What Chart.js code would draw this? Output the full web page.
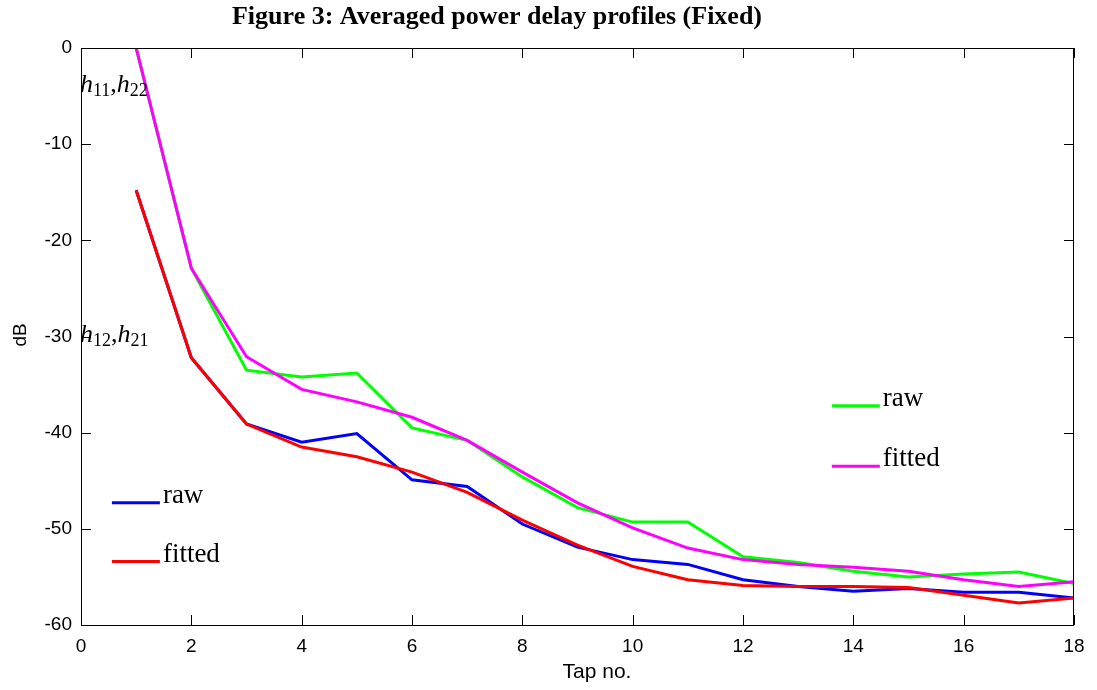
<!DOCTYPE html>
<html>
<head>
<meta charset="utf-8">
<script src="https://cdn.jsdelivr.net/npm/chart.js@4.4.0/dist/chart.umd.min.js"></script>
<style>
  html, body { margin: 0; padding: 0; background: #fff; }
  #wrap { width: 1097px; height: 690px; position: relative; }
</style>
</head>
<body>
<div id="wrap"><canvas id="pdp"></canvas></div>
<script>
// tap index and averaged power (dB)
const taps = [1, 2, 3, 4, 5, 6, 7, 8, 9, 10, 11, 12, 13, 14, 15, 16, 17, 18];
const h11Raw    = [0, -22.9, -33.5, -34.2, -33.8, -39.5, -40.8, -44.6, -47.8, -49.3, -49.3, -52.9, -53.5, -54.4, -55.0, -54.7, -54.5, -55.7];
const h11Fitted = [0, -22.9, -32.1, -35.5, -36.8, -38.4, -40.8, -44.1, -47.3, -49.9, -52.0, -53.2, -53.7, -54.0, -54.4, -55.3, -56.0, -55.5];
const h12Raw    = [-14.8, -32.2, -39.1, -41.0, -40.1, -44.9, -45.6, -49.5, -51.9, -53.2, -53.7, -55.3, -56.0, -56.5, -56.2, -56.6, -56.6, -57.2];
const h12Fitted = [-14.8, -32.2, -39.1, -41.5, -42.5, -44.1, -46.2, -49.1, -51.7, -53.9, -55.3, -55.9, -56.0, -56.0, -56.1, -56.9, -57.7, -57.2];

const xTicks = [0, 2, 4, 6, 8, 10, 12, 14, 16, 18];
const yTicks = [0, -10, -20, -30, -40, -50, -60];

const pts = arr => arr.map((v, i) => ({ x: taps[i], y: v }));

// in-plot legends: [color, label, x0, x1, y] in data units
const legendItems = [
  ['#00ff00', 'raw', 13.61, 14.48, -37.2],
  ['#ff00ff', 'fitted', 13.61, 14.48, -43.5],
  ['#0000ff', 'raw', 0.56, 1.43, -47.3],
  ['#ff0000', 'fitted', 0.56, 1.43, -53.4]
];
// channel labels: [main, sub1, sub2, x, y] in data units
const chanLabels = [
  ['h', '11', '22', 0, -4.6],
  ['h', '12', '21', 0, -30.6]
];

const serif = '"Liberation Serif", "Times New Roman", serif';
const sans = '"Liberation Sans", Arial, sans-serif';

const decor = {
  id: 'decor',
  afterDraw(chart) {
    const { ctx, chartArea: a, scales: { x, y } } = chart;
    ctx.save();
    // box
    ctx.strokeStyle = '#000';
    ctx.lineWidth = 1;
    ctx.strokeRect(a.left + 0.5, a.top + 0.5, a.right - a.left - 1, a.bottom - a.top);
    // inward ticks, mirrored on top and right
    ctx.beginPath();
    xTicks.forEach(t => {
      const px = Math.round(x.getPixelForValue(t)) + 0.5;
      ctx.moveTo(px, a.bottom); ctx.lineTo(px, a.bottom - 10);
      ctx.moveTo(px, a.top); ctx.lineTo(px, a.top + 10);
    });
    yTicks.forEach(t => {
      const py = Math.round(y.getPixelForValue(t)) + 0.5;
      ctx.moveTo(a.left, py); ctx.lineTo(a.left + 10, py);
      ctx.moveTo(a.right, py); ctx.lineTo(a.right - 10, py);
    });
    ctx.stroke();

    // title
    ctx.fillStyle = '#000';
    ctx.textAlign = 'center';
    ctx.textBaseline = 'alphabetic';
    ctx.font = 'bold 26px ' + serif;
    ctx.fillText('Figure 3: Averaged power delay profiles (Fixed)', 497, 24);

    // axis titles
    ctx.font = '21px ' + sans;
    ctx.textBaseline = 'middle';
    ctx.fillText('Tap no.', 597, 672);
    ctx.save();
    ctx.translate(21, 335);
    ctx.rotate(-Math.PI / 2);
    ctx.font = '19px ' + sans;
    ctx.fillText('dB', 0, 0);
    ctx.restore();

    // legend lines and labels
    ctx.textAlign = 'left';
    ctx.textBaseline = 'alphabetic';
    ctx.font = '27px ' + serif;
    legendItems.forEach(([c, label, x0, x1, yv]) => {
      const py = y.getPixelForValue(yv);
      ctx.strokeStyle = c;
      ctx.lineWidth = 3;
      ctx.beginPath();
      ctx.moveTo(x.getPixelForValue(x0), py);
      ctx.lineTo(x.getPixelForValue(x1), py);
      ctx.stroke();
      ctx.fillStyle = '#000';
      ctx.fillText(label, x.getPixelForValue(x1) + 3, py);
    });

    // h labels with subscripts
    chanLabels.forEach(([m, s1, s2, xv, yv]) => {
      let px = x.getPixelForValue(xv) - 1;
      const py = y.getPixelForValue(yv);
      const big = 'italic 26px ' + serif;
      const small = '18px ' + serif;
      const parts = [[m, big, 0], [s1, small, 4], [',', '26px ' + serif, 0], [m, big, 0], [s2, small, 4]];
      parts.forEach(([t, f, dy]) => {
        ctx.font = f;
        ctx.fillText(t, px, py + dy);
        px += ctx.measureText(t).width;
      });
    });
    ctx.restore();
  }
};

const axisFont = { family: sans, size: 19 };

new Chart(document.getElementById('pdp'), {
  type: 'line',
  data: {
    datasets: [
      { label: 'h12 fitted', data: pts(h12Fitted), borderColor: '#ff0000', order: 0 },
      { label: 'h12 raw', data: pts(h12Raw), borderColor: '#0000ff', order: 1 },
      { label: 'h11 fitted', data: pts(h11Fitted), borderColor: '#ff00ff', order: 2 },
      { label: 'h11 raw', data: pts(h11Raw), borderColor: '#00ff00', order: 3 }
    ]
  },
  options: {
    responsive: true,
    maintainAspectRatio: false,
    animation: false,
    layout: { padding: { top: 48, right: 23, left: 0, bottom: 0 } },
    elements: {
      line: { borderWidth: 3, tension: 0, fill: false },
      point: { radius: 0 }
    },
    plugins: { legend: { display: false }, tooltip: { enabled: false } },
    scales: {
      x: {
        type: 'linear', min: 0, max: 18,
        afterBuildTicks: s => { s.ticks = xTicks.map(v => ({ value: v })); },
        afterFit: s => { s.height = 65; },
        grid: { display: false },
        border: { display: false },
        ticks: { color: '#000', font: axisFont, padding: 2, maxRotation: 0 }
      },
      y: {
        type: 'linear', min: -60, max: 0,
        afterBuildTicks: s => { s.ticks = yTicks.map(v => ({ value: v })); },
        afterFit: s => { s.width = 81; },
        grid: { display: false },
        border: { display: false },
        ticks: { color: '#000', font: axisFont, padding: 1 }
      }
    }
  },
  plugins: [decor]
});
</script>
</body>
</html>
